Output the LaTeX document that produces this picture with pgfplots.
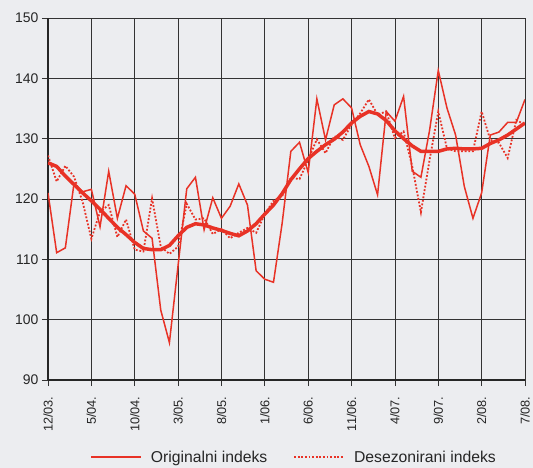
\documentclass[border=0pt]{standalone}
\usepackage{pgfplots}
\pgfplotsset{compat=1.18}
\usepackage{pgfplotstable}
\usepackage{fontspec}
\setmainfont{Liberation Sans}
\definecolor{bg}{RGB}{236,237,240}
\definecolor{cred}{RGB}{232,50,38}

\pgfplotstableread{
i o d t
0 121.0 127.2 126.0
1 111.1 122.9 125.4
2 111.9 125.5 123.8
3 122.6 123.7 122.4
4 121.2 119.5 121.0
5 121.6 113.4 119.7
6 115.4 117.9 118.3
7 124.6 119.0 116.8
8 116.8 113.7 115.3
9 122.2 116.6 114.1
10 120.8 111.6 112.8
11 114.7 111.3 111.8
12 113.5 120.1 111.6
13 101.6 112.1 111.6
14 96.2 110.9 112.3
15 109.0 112.1 113.9
16 121.7 119.2 115.3
17 123.6 116.6 115.9
18 114.9 116.8 115.7
19 120.2 114.2 115.2
20 116.8 115.0 114.8
21 118.8 113.5 114.3
22 122.5 114.4 113.9
23 119.0 115.2 114.7
24 108.1 114.4 115.9
25 106.7 117.5 117.5
26 106.2 119.7 119.0
27 116.0 120.5 120.9
28 127.9 123.5 123.2
29 129.4 123.3 125.0
30 124.4 126.5 126.7
31 136.6 129.9 127.9
32 129.8 127.6 129.0
33 135.6 130.4 129.9
34 136.6 129.8 131.1
35 135.1 132.3 132.6
36 129.0 134.2 133.7
37 125.4 136.5 134.5
38 120.7 134.0 134.1
39 134.5 134.5 133.0
40 132.9 130.1 131.3
41 137.0 131.2 130.0
42 124.6 125.4 128.8
43 123.6 117.8 127.9
44 131.4 126.5 127.9
45 141.3 134.5 127.9
46 135.1 128.4 128.3
47 130.6 127.9 128.4
48 122.1 127.9 128.3
49 116.8 127.9 128.3
50 121.0 134.5 128.4
51 130.6 129.8 129.2
52 131.1 129.3 129.8
53 132.7 126.8 130.6
54 132.7 133.1 131.6
55 136.5 132.3 132.6
}\data

\begin{document}
\begin{tikzpicture}
\fill[bg] (-48bp,-88bp) rectangle (485bp,380bp);
\begin{axis}[
  at={(0,0)}, anchor=south west,
  scale only axis, width=477bp, height=362bp,
  xmin=0, xmax=55, ymin=90, ymax=150,
  ytick={90,100,...,150},
  xtick={0,5,...,55},
  xticklabels={12/03.,5/04.,10/04.,3/05.,8/05.,1/06.,6/06.,11/06.,4/07.,9/07.,2/08.,7/08.},
  grid=major,
  grid style={black!80, line width=0.8bp},
  axis x line*=bottom, axis y line*=left,
  axis line style={line width=1.6bp, black!85, -},
  tick align=outside, major tick length=6bp,
  tick style={black!80, line width=0.8bp},
  /pgf/number format/assume math mode=true,
  yticklabel style={font=\fontsize{14}{16}\selectfont, text=black!85},
  xticklabel shift=7bp,
  xticklabel style={rotate=90, anchor=east, font=\fontsize{12.8}{14}\selectfont, text=black!85},
  legend style={at={(axis description cs:0.516,-0.213)}, anchor=center, draw=none, fill=none,
    legend columns=2, font=\fontsize{15.8}{18}\selectfont, text=black!85,
    /tikz/every even column/.append style={column sep=24bp}},
  legend image code/.code={\draw[#1] (0bp,0bp) -- (50bp,0bp); \path (57bp,0bp);},
]
\addplot[cred, line width=1.5bp] table[x=i,y=o] {\data};
\addlegendentry{Originalni indeks}
\addplot[cred, line width=1.8bp, dash pattern=on 1.8bp off 1.8bp] table[x=i,y=d] {\data};
\addlegendentry{Desezonirani indeks}
\addplot[cred, line width=3.5bp, forget plot] table[x=i,y=t] {\data};
\end{axis}
\pgfresetboundingbox
\path[use as bounding box] (-48bp,-88bp) rectangle (485bp,380bp);
\end{tikzpicture}
\end{document}
